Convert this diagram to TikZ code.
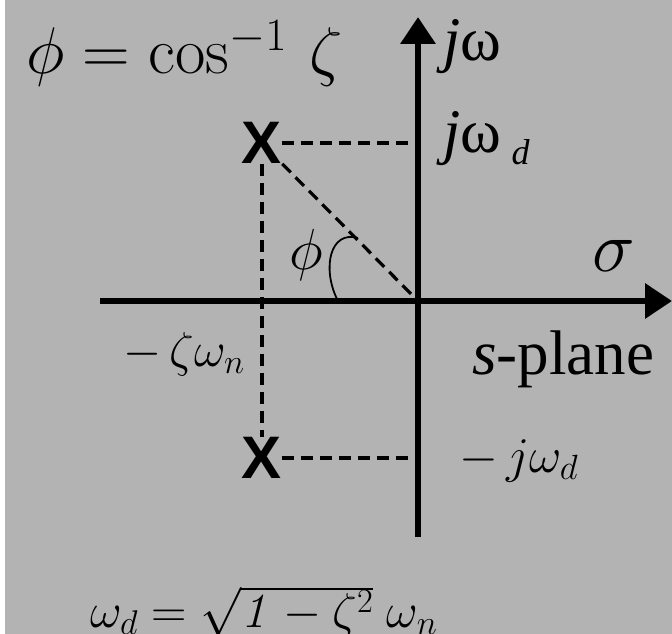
\RequirePackage{fix-cm}
\documentclass[tikz,border=0pt]{standalone}
\usepackage[no-math]{fontspec}
\setmainfont{Liberation Serif}
\setsansfont{Liberation Sans}
\usetikzlibrary{arrows.meta}
\definecolor{bg}{RGB}{179,179,179}
\newcommand{\fs}[1]{\fontsize{#1}{#1}\selectfont}
\begin{document}
\begin{tikzpicture}[x=1pt,y=-1pt,
  axis/.style={line width=6.5pt,-{Triangle[length=27pt,width=34pt]}},
  dashln/.style={line width=3.2pt,dash pattern=on 12pt off 7pt},
  pole/.style={inner sep=0pt,font=\fs{60}\sffamily\bfseries},
  lbl/.style={inner sep=0pt,anchor=base west}]
\useasboundingbox (0,0) rectangle (672,634);
\fill[white] (0,0) rectangle (672,634);
\fill[bg] (5,0) rectangle (672,634);
% axes
\coordinate (O) at (418,301);
\coordinate (vb) at (418,537);
\coordinate (vt) at (418,17);
\coordinate (hl) at (100,301);
\coordinate (hr) at (672,301);
\draw[axis] (vb) -- (vt);
\draw[axis] (hl) -- (hr);
% poles
\node[pole] (p1) at (262,143) {X};
\node[pole] (p2) at (262,458) {X};
\draw[dashln] (p1.east) -- (p1.east -| O);
\draw[dashln] (p2.east) -- (p2.east -| O);
\draw[dashln] (p1.south) -- (p2.north);
\draw[dashln] (p1.south east) -- (O);
% angle arc
\draw[line width=1.8pt] (337,299) .. controls (322,268) and (330,230) .. (358,238);
% labels
\node[lbl,font=\fs{66}] (title) at (26,74) {$\phi = \cos^{-1}\,\zeta$};
\node[lbl,font=\fs{62}] (jw) at (443,61) {\textit{j}ω};
\node[lbl,font=\fs{62}] (jwd) at (443,152) {\textit{j}ω\,\raisebox{-0.2em}{\fs{36}\textit{d}}};
\node[inner sep=0pt,font=\fs{58}] (phil) at (306,255) {$\phi$};
\node[inner sep=0pt,font=\fs{72}] (sig) at (614,256) {$\sigma$};
\node[lbl,font=\fs{49}] (mzw) at (123,366) {$-\,\zeta\omega_{n}$};
\node[lbl,font=\fs{63}] (spl) at (472,374) {\textit{s}-plane};
\node[lbl,font=\fs{50}] (mjwd) at (459,472) {$-\,j\omega_{d}$};
\node[lbl,font=\fs{49}] (wd) at (90,627) {$\omega_{d} = \sqrt{\mathit{1}-\zeta^{2}}\;\omega_{n}$};
\end{tikzpicture}
\end{document}
